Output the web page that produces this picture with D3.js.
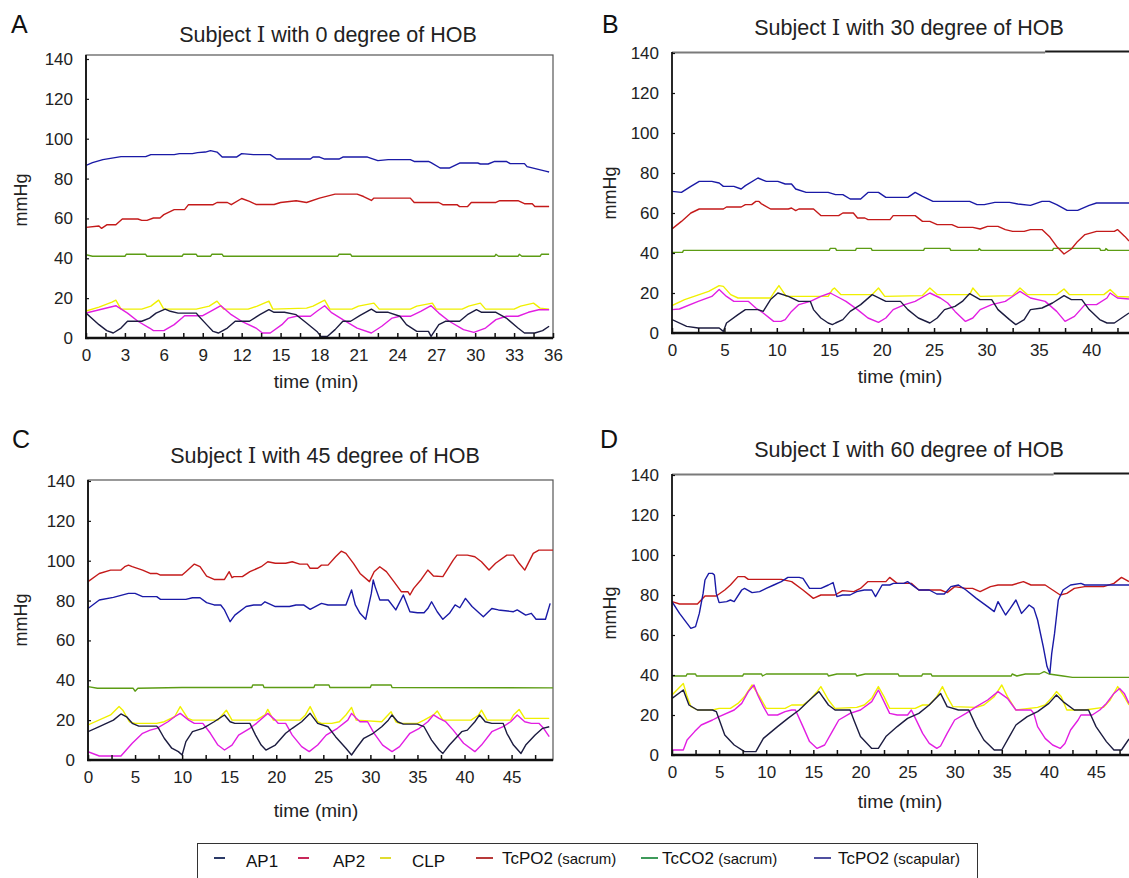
<!DOCTYPE html>
<html>
<head>
<meta charset="utf-8">
<script src="https://cdn.jsdelivr.net/npm/d3@7"></script>
<style>
body { margin: 0; background: #fff; }
svg { display: block; font-family: "Liberation Sans", Arial, sans-serif; }
</style>
</head>
<body>
<svg id="fig" width="1129" height="878"></svg>
<script>
// series order: AP1, AP2, CLP, TcPO2 (sacrum), TcCO2 (sacrum), TcPO2 (scapular)
var seriesNames = ["AP1", "AP2", "CLP", "TcPO2", "TcCO2", "TcPO2"];
var seriesSites = ["", "", "", "(sacrum)", "(sacrum)", "(scapular)"];

// ---- A : 0 degree ----  [time (min), mmHg]
var A_AP1 = [[0,12.5],[1,6.7],[1.6,3.7],[2.1,2.5],[2.7,5],[3.2,8.4],[4.3,8.4],[4.9,10],[5.4,12.5],[6.1,14.5],[6.5,13.4],[7.1,12.5],[8.5,12.5],[8.7,10.9],[9.3,6.7],[9.8,3.3],[10.2,2.5],[10.9,5],[11.5,8.4],[12.6,8.4],[13.4,11.7],[14.1,14.2],[14.5,12.9],[15.3,12.9],[16.2,11.7],[17,7.5],[17.8,3.3],[18.1,0.8],[18.6,0.8],[19.2,4.2],[19.8,8.4],[20.4,8.4],[21.1,11.2],[22,14.5],[22.4,12.9],[23.3,12.9],[24.2,10.9],[24.7,6.7],[25.5,3.3],[26.4,3.3],[26.6,0.8],[27.2,6.7],[27.7,8.4],[28.8,8.4],[29.4,11.7],[30.1,14.2],[30.5,12.9],[31.6,12.9],[32.4,10],[33.3,5],[33.8,2.5],[34.6,2.5],[35.2,3.7],[35.7,5.9]];
var A_AP2 = [[0,12.5],[2.3,16.2],[3.2,12.5],[4,8.4],[4.9,5],[5.2,3.7],[6,3.7],[6.8,6.7],[7.4,10],[7.6,11.2],[9,11.2],[9.6,13.4],[10.4,16.2],[11.2,11.7],[12,8.4],[13.1,5],[13.6,2.5],[14.2,2.5],[15.1,6.7],[15.6,10],[16.2,10.9],[17.3,10.9],[17.8,13.4],[18.4,16.2],[18.9,12.9],[19.8,9.2],[20.9,5],[22,2.5],[22.8,5.9],[23.6,10],[24.2,10.9],[25,10.9],[25.8,13.4],[26.6,16.2],[27.2,12.5],[28,8.4],[29.1,4.2],[29.9,2.8],[30.8,5],[31.6,9.2],[32.4,10.9],[33.3,10.9],[34.1,12.9],[34.9,14.2],[35.7,14.2]];
var A_CLP = [[0,13.5],[1,15.5],[2,18],[2.3,19],[2.7,14.5],[4.3,14.5],[5,16],[5.6,19],[6,14.5],[8.5,14.5],[9.5,16],[10.1,18.5],[10.6,14.5],[12.5,14.5],[13.2,16],[14.1,18.5],[14.4,14.5],[17,15],[17.5,16],[18.4,19],[18.8,14.5],[20.5,14.5],[21,16],[22.2,17.5],[22.6,14.5],[25,14.5],[25.5,16],[26.7,17.5],[27,14.5],[29,14.5],[29.5,16],[30.4,17.5],[30.8,14.5],[33,14.5],[33.5,16],[34.5,17.5],[35,15],[35.7,14.5]];
var A_PO2Sac = [[0,55.5],[1,56.2],[1.2,55],[1.6,56.8],[2.3,56.8],[2.8,59.7],[4,59.7],[4.3,59],[4.7,59],[5.2,60.2],[5.7,60.2],[6,61.9],[6.8,64.4],[7.6,64.4],[7.9,66.9],[9.8,66.9],[10.1,68],[10.9,68],[11.2,66.9],[12,70],[12.6,68.6],[13.1,67],[14.5,67],[15,68],[16.2,68.9],[17,68],[18,70.2],[19.2,72.2],[20.9,72.2],[21.4,71],[22,69],[22.2,70.2],[25,70.2],[25.3,68],[27.2,68],[27.5,66.9],[28.6,66.9],[28.8,65.9],[29.4,65.9],[29.7,68],[31.6,68],[31.9,68.9],[33.3,68.9],[33.8,67.4],[34.4,67.4],[34.6,66],[35.7,66]];
var A_CO2 = [[0,41.8],[0.5,41],[3,41],[3.1,42],[4.6,42],[4.7,41],[7.4,41],[7.5,42],[8.5,42],[8.6,41],[9.6,41],[9.7,42],[10.5,42],[10.6,41],[19.4,41],[19.5,42],[20.4,42],[20.5,41],[31.5,41],[31.6,42],[31.8,41],[33.3,41],[33.4,42],[33.6,41],[35,41],[35.1,42],[35.7,42]];
var A_PO2Scap = [[0,86.6],[0.5,88],[1.3,89.5],[2.7,91],[4.6,91],[5,92],[6.8,92],[7.2,92.5],[8.2,92.5],[8.6,93],[9.2,93.3],[9.6,94],[10.1,93.3],[10.5,90.8],[11.6,90.8],[12,92.5],[12.9,92],[14.2,92],[14.7,89.8],[17.3,89.8],[17.5,90.8],[18,90.8],[18.4,89.8],[19.5,89.8],[19.8,90.8],[21.7,90.8],[22.5,89],[23.3,89.5],[25,89.5],[25.3,88.6],[26.4,88.6],[26.6,88],[27.3,85.3],[28,85.3],[28.8,87.8],[30.2,87.8],[30.4,87.3],[31,87.3],[31.5,88.6],[32.4,88.6],[32.7,87.5],[33.8,87.5],[34,86],[35.5,83.6],[35.7,83.3]];

// ---- B : 30 degree ----
var B_AP1 = [[0,6.7],[1.4,3.3],[2.5,2.5],[4.5,2.5],[4.9,0.8],[5.2,5],[6.3,9.2],[7,11.7],[7.6,11.7],[8.2,11.7],[8.7,10.8],[9.4,16.7],[10.1,20],[11.1,18.3],[12.1,15.8],[13.2,15.8],[13.5,11.7],[14.2,7.5],[14.9,5],[15.3,4.2],[15.6,5],[16.3,6.7],[17,10.8],[18,14.2],[19.1,19.2],[20.4,15.8],[21.8,15.8],[22.5,11.7],[23.5,7.5],[24.6,5],[25.3,7.5],[26,11.7],[27,13.3],[27.7,15.8],[28.4,19.7],[29.4,16.7],[30.5,16.7],[31.1,11.7],[32.2,6.7],[32.8,4.2],[33.6,6.7],[34.2,11.7],[35.3,12.5],[36.3,15],[37.4,18.7],[38.1,16.7],[39.1,16.7],[39.8,11.7],[40.8,6.7],[41.5,5],[42.2,5],[42.9,7.5],[43.6,10]];
var B_AP2 = [[0,11.7],[0.7,12],[2.5,15.8],[3.8,18.3],[4.5,21.7],[5.2,18.3],[5.9,15.8],[7.3,15.8],[8,12.5],[8.7,10],[9.7,5.8],[10.4,5.8],[10.8,6.7],[11.4,10.8],[12.1,14.2],[13.2,15.8],[14.2,18.3],[15.1,20],[16,17.5],[16.6,15.8],[17.7,11.7],[18.7,7.5],[19.7,5.3],[20.4,7.5],[21.1,11.7],[22.2,14.2],[23.2,15.8],[24.6,20],[25.6,17.5],[26.3,15],[27,10.8],[28,5.8],[28.7,7.5],[29.4,11.7],[30.5,14.2],[31.8,15.8],[33.2,20.8],[34.2,17.5],[35.6,15.8],[36.7,10.8],[37.5,5.8],[38.4,8.3],[39.4,14.2],[40.5,14.2],[41.5,17.5],[41.8,20],[42.5,17.5],[43.6,17]];
var B_CLP = [[0,13.7],[1.2,16.7],[3.5,20.8],[4.5,23.7],[4.9,23.3],[5.6,19.2],[6.3,17.5],[9.4,17.5],[9.7,20],[10.2,23.7],[10.9,18.3],[14.9,18.3],[15.3,21.7],[15.5,22.5],[16.1,19.2],[19.1,19.2],[19.7,22.5],[20.3,18.3],[23.9,18.7],[24.6,22.5],[25.3,19.2],[28.4,19.2],[28.7,22.5],[29.4,18.3],[32.5,18.7],[33.2,22.5],[33.9,19.2],[36.7,19.2],[37.4,22],[37.9,19.2],[41.2,19.2],[41.8,21.7],[42.5,18.3],[43.6,18]];
var B_PO2Sac = [[0,52],[0.9,55.8],[1.8,60],[2.6,62],[4.9,62],[5.2,63],[6.6,63],[7,64.2],[7.6,64.2],[8,65.8],[8.3,65.8],[8.5,64.7],[9.4,62],[11.1,62],[11.4,62.5],[11.8,61.2],[12.1,62],[13.5,62],[14.2,58.7],[15.9,58.7],[16.3,60],[17.3,60],[17.7,57.5],[18.4,57.5],[18.7,56.7],[20.8,56.7],[21.1,58.7],[23.2,58.7],[23.9,55.8],[24.6,55.8],[25.3,54.2],[26.7,54.2],[27.3,52.8],[28.7,52.8],[29.4,52],[30.1,53.3],[31.1,53.3],[31.8,51.7],[32.5,50.8],[33.6,50.8],[34.2,51.7],[35.3,51.7],[36,48.3],[36.7,43.3],[37.4,39.5],[38.1,42],[38.7,45.8],[39.4,49.2],[40.5,50.8],[42.2,50.8],[42.5,51.7],[43.2,48.3],[43.6,46]];
var B_CO2 = [[0,40.3],[1,40.3],[1.1,41.3],[15,41.3],[15.1,42.3],[15.6,42.3],[15.7,41.3],[17.5,41.3],[17.6,42.3],[19,42.3],[19.1,41.3],[24,41.3],[24.1,42.3],[26.5,42.3],[26.6,41.3],[29.2,41.3],[29.3,42.2],[29.5,41.3],[36.3,41.3],[36.4,42.3],[40.8,42.3],[40.9,41.3],[41.3,41.3],[41.4,42.2],[41.6,41.3],[43.6,41.3]];
var B_PO2Scap = [[0,70.8],[0.9,70.3],[1.8,73.3],[2.6,75.8],[3.8,75.8],[4.5,75],[4.9,73.3],[5.9,73.3],[6.6,72],[7,73.7],[8.2,77.5],[9,75.8],[10.1,75.8],[10.8,74.5],[11.4,74.5],[11.8,72],[12.8,70.3],[14.9,70.3],[15.6,69.2],[16.3,69.2],[17,67],[18,67],[18.7,70.3],[19.7,70.3],[20.4,67.8],[22.5,67.8],[23.2,70.3],[23.9,68.3],[24.9,65.8],[28.4,65.8],[29.1,64.2],[29.8,64.2],[30.8,65.3],[32.2,65.3],[33,64.5],[34.2,63.8],[35.3,65.8],[36,65.8],[36.7,64.2],[37.7,61.3],[38.7,61.3],[39.8,63.8],[40.5,65],[43.6,65]];

// ---- C : 45 degree ----
var C_AP1 = [[0,14.2],[1.2,16.7],[2.7,20],[3.5,23.1],[4.1,21.7],[4.7,18.4],[5.4,17],[7.3,17],[7.5,15.9],[8.1,10.9],[8.9,5.9],[9.6,4.2],[10,2.5],[10.4,9.2],[11.1,14.2],[12.2,15.9],[13.4,19.2],[14.5,22.6],[15.1,19.2],[15.6,18.4],[17.2,18.4],[17.8,12.5],[18.4,7.5],[18.9,5],[19.9,7.5],[21,13.4],[21.7,15.9],[22.7,19.2],[23.6,23.4],[24.4,18.4],[25.5,16.7],[26.3,11.7],[27.4,5.9],[28,2.5],[28.5,5.9],[29.3,10.9],[30.3,13.4],[31.2,16.7],[31.9,20],[32.3,22.6],[32.9,19.2],[33.5,18],[35,18],[35.7,16.7],[36.5,10],[37.3,5],[37.7,3.3],[38.4,7.5],[39.7,14.2],[40.3,15],[41.1,19.2],[41.6,22.6],[42.2,19.2],[42.9,18.4],[44.1,18.4],[44.5,13.4],[45.2,7.5],[46,3.3],[46.5,7.5],[47.5,12.5],[48.3,15.9],[49,16.7]];
var C_AP2 = [[0,4.2],[1.2,2],[3.5,2],[4.7,8.4],[5.8,13.4],[6.6,15],[7.3,15.9],[8.5,19.2],[9.2,21.7],[9.8,23.4],[10.7,20],[11.3,18.4],[12.2,18.4],[13,13.4],[13.8,7.5],[14.5,5],[15.3,7.5],[16,12.5],[17.2,15.9],[17.9,18.4],[19.1,23.4],[19.9,20],[20.2,18.4],[21,18.4],[21.7,12.5],[22.7,6.7],[23.5,4.2],[24.4,7.5],[25.3,12.5],[26.5,15.9],[27.6,20],[28,23.4],[28.5,20.9],[28.9,19.2],[29.7,19.2],[30.4,13.4],[31.3,7.5],[32.3,4.2],[33.1,6.7],[34.2,13.4],[35.2,15.9],[36.1,19.2],[36.7,22.6],[37.3,20.9],[38,19.2],[38.8,15],[39.9,8.4],[41.1,4.2],[41.8,7.5],[42.9,14.2],[44.1,16.7],[44.9,19.2],[45.6,22.6],[46.4,19.2],[47.1,18.4],[47.9,18.4],[48.4,15.9],[49,11.7]];
var C_CLP = [[0,17.6],[2.4,22.6],[3.3,26.8],[3.7,25],[4.4,19.2],[5,18.4],[7.3,18.4],[8.1,19.2],[9.2,21.7],[9.8,26.8],[10.6,20.9],[11.1,20],[13.8,20],[14.1,21.7],[14.7,25],[15.3,20],[17.9,20],[18.8,22.6],[19.1,25.4],[19.7,20],[22.5,20],[23.1,22.6],[23.6,26.8],[24.4,19.2],[24.8,18.4],[25.9,18.4],[26.7,19.2],[27.4,22.6],[28,26.4],[28.5,20],[31.2,19.2],[31.7,21.7],[32.2,24.2],[32.7,19.2],[33.1,18.4],[35,18.4],[35.7,20],[36.7,22.6],[37.1,24.6],[37.7,20],[40.7,20],[41.5,22.6],[41.8,25],[42.4,20],[44.9,20],[45.2,22.6],[45.8,25.4],[46.4,20.9],[49,20.9]];
var C_PO2Sac = [[0,89.5],[1.2,93.6],[2.4,95.3],[3.5,95.3],[3.9,97],[4.3,97.8],[4.7,97],[5.8,95.3],[6.6,93.6],[7.3,93.6],[7.7,92.8],[10,92.8],[10.4,94.5],[11.3,98.3],[11.9,97],[12.6,92.3],[13.4,90.6],[14.5,90.6],[15,94.5],[15.3,91.5],[15.5,92],[16.4,92],[17.2,94.5],[18.4,97],[19.1,99.5],[19.9,98.7],[21,98.7],[21.7,99.5],[22.5,98.3],[23.3,98.3],[23.6,96.2],[24.4,96.2],[24.8,97.8],[25.5,97.8],[26.3,102],[26.9,104.8],[27.4,103.7],[28.2,98.7],[28.9,93.6],[29.9,89.5],[30.4,94.5],[31,97],[31.7,94.5],[32.5,89.5],[33.3,84.4],[34,84.4],[34.2,82.8],[34.6,86.1],[35.4,90.6],[36.1,95.3],[36.7,92.3],[37.7,92],[38.8,100.3],[39.2,102.8],[40.3,102.8],[41.1,102],[41.8,99.5],[42.6,95.3],[43.3,98.7],[44.5,102.8],[45.2,102.8],[45.8,98.7],[46.4,95.3],[47.3,103.7],[47.9,105.3],[49.4,105.3]];
var C_CO2 = [[0,36.8],[1,36],[4.8,36],[5,34.5],[5.3,36],[10,36.4],[17.4,36.4],[17.5,37.6],[18.6,37.6],[18.7,36.4],[24,36.4],[24.1,37.6],[25.6,37.6],[25.7,36.4],[30,36.4],[30.1,37.6],[32.2,37.6],[32.3,36.4],[49.4,36.2]];
var C_PO2Scap = [[0,76],[1.2,80.3],[2.7,81.6],[4.3,83.6],[5,83.6],[5.8,82],[7.3,82],[7.7,80.6],[10.4,80.6],[11.1,81.4],[11.9,81.4],[12.6,79],[13.4,77.8],[14.1,77.8],[14.5,75.3],[15.1,69.4],[15.6,72.7],[16.8,77],[17.6,77.8],[18.4,77.8],[18.8,79.4],[19.9,77],[21.4,77],[22.1,77.8],[22.9,77.8],[23.6,75.6],[24.8,78.6],[25.5,77.8],[27.4,77.8],[28,85.3],[28.4,77.8],[28.9,73.6],[29.5,70.6],[30.1,83.6],[30.3,90.3],[30.5,87],[31,80.3],[31.9,80.3],[32.7,75.3],[33.5,82.8],[34.2,74.4],[35,73.9],[35.7,73.9],[36.1,76],[36.5,79.4],[37.1,74.4],[37.7,70.6],[38.4,73.6],[39,77.8],[39.5,76.4],[40.1,81.1],[40.8,77],[42,71.9],[42.9,76],[43.6,75.3],[45.2,74.4],[45.6,75.3],[46.5,72.7],[47.1,73.6],[47.6,70.6],[48.6,70.6],[49.1,78.6]];

// ---- D : 60 degree ----
var D_AP1 = [[0,28.3],[1.2,32.5],[1.8,25],[2.7,22.5],[4.3,22.5],[4.7,21.7],[5.6,10],[6.6,5],[7.7,1.7],[8.9,1.7],[9.7,8.3],[11.2,14.2],[12.3,18.3],[13.5,22.5],[14.6,27.5],[15.6,31.7],[16.6,25],[17.3,22.5],[18.9,22.5],[19.3,17.5],[20,9.2],[21.2,3.3],[21.9,3.3],[22.7,9.2],[23.9,14.2],[25,18.3],[26.2,20.8],[27.3,25],[28.5,30.8],[29.2,24.2],[30.4,22.5],[31.5,22.5],[32.3,14.2],[33.1,7.5],[34.2,2.5],[35,2.5],[35.8,9.2],[36.5,15],[37.7,19.2],[38.8,21.7],[40,25.8],[40.8,30],[41.5,26.7],[42.7,22.5],[44.2,22.5],[45,14.2],[46.1,6.7],[46.9,2.5],[47.7,2.5],[48.5,8]];
var D_AP2 = [[0,2.5],[1.2,2.5],[1.6,7.5],[2.4,11.7],[3.1,15],[4.3,17.5],[5,19.2],[6.6,22.5],[7.4,25.8],[8.1,31.7],[8.7,35],[9.1,30],[9.7,24.2],[10.2,20],[11.2,20],[12,21.7],[12.7,22.5],[13.1,22.5],[13.9,14.2],[14.6,6.7],[15.4,3.3],[16.2,5],[17,11.7],[17.7,17.5],[18.9,20.8],[20,22.5],[21.2,26.7],[21.9,32.5],[22.5,26.7],[23.1,20.8],[23.9,20],[25,20],[25.4,22.5],[26,16.7],[26.6,10.8],[27.3,5.8],[28.1,3.3],[28.5,4.5],[29.2,10.8],[30,17.5],[31.2,20.8],[32.3,24.2],[33.5,27.5],[34.6,31.7],[35.6,28.3],[36.5,22.5],[38.1,22.5],[38.4,20.8],[38.8,14.2],[39.6,8.3],[40.4,5],[41.2,3.3],[41.7,5.8],[42.3,12.5],[43.1,17.5],[43.4,20],[44.6,20],[45.4,22.5],[46.1,25.8],[46.9,30.8],[47.5,33.3],[48,30.8],[48.5,25.8]];
var D_CLP = [[0,30],[1.2,35.8],[1.6,29.2],[2,24.2],[2.7,22.5],[4.3,22.5],[5,23.3],[6.2,23.3],[7,25.8],[7.7,29.2],[8.5,35],[9.3,29.2],[10,23.3],[12,23.3],[12.7,25],[13.9,25],[14.6,27.5],[15.4,31.7],[15.8,34.2],[16.6,27.5],[17.3,23.3],[19.6,23.8],[20.4,25],[21.2,28.3],[21.9,34.2],[22.5,29.2],[23.1,23.3],[25.8,23.3],[26.6,25],[27.3,25],[28.1,29.2],[28.7,34.2],[29.2,29.2],[29.8,24.2],[32.3,23.8],[33.1,25],[34.2,29.2],[35,35],[35.6,29.2],[36.5,22.5],[38.8,23.8],[39.6,25],[40.4,29.2],[40.8,31.7],[41.3,29.2],[41.9,22.5],[43.8,22.5],[45.8,23.8],[46.5,27.5],[47.3,34.2],[48,29.2],[48.5,25]];
var D_PO2Sac = [[0,76.7],[0.8,75.5],[2.7,75.5],[3.1,77.5],[3.5,79.5],[4.7,79.5],[5.6,82.5],[6.2,85],[7,89.2],[7.7,89.2],[8.1,87.8],[11.6,87.8],[12.7,86.7],[13.9,82.5],[15,78.3],[15.8,80],[17.3,80],[18.1,82.2],[19.3,81.7],[20,83.3],[20.8,86.7],[22.7,86.7],[23.1,88.8],[23.9,85.8],[25.4,85.8],[26.2,82.5],[28.5,82.5],[29.2,81.2],[30,84.2],[31.2,83.3],[31.9,83.3],[32.7,81.7],[33.8,84.2],[34.6,85],[36.1,85],[37.3,86.7],[38.1,85],[39.6,85],[40.4,82.5],[41.2,80],[41.9,80.8],[42.7,83.3],[43.8,84.2],[45.8,84.2],[46.9,85.8],[47.7,88.8],[48.5,86.7]];
var D_CO2 = [[0,39.5],[1.5,39.5],[1.6,40.5],[2.5,40.5],[2.6,39.5],[7.5,39.5],[7.6,40.5],[9.5,40.5],[9.6,39.5],[10,40.5],[16.5,40.5],[16.6,39.5],[17.5,40.5],[19.5,40.5],[19.6,39.5],[20.5,40.5],[24,40.5],[24.1,39.5],[26.5,39.5],[26.6,40.5],[27.5,40.5],[27.6,39.5],[36,39.5],[36.1,40.5],[36.6,39.5],[37.5,40.5],[39,40.5],[39.5,41.7],[40,40.5],[41.5,39.5],[42.5,38.8],[48.5,38.8]];
var D_PO2Scap = [[0,76.7],[0.8,70.8],[1.6,65.8],[2,63.3],[2.5,64.2],[2.9,70.8],[3.3,80.8],[3.5,87.5],[3.9,90.8],[4.3,90.8],[4.5,90],[4.7,80.8],[5,76.2],[5.8,76.7],[6.2,77.5],[6.6,76.7],[7.4,82.5],[7.7,83.3],[8.5,81.2],[9.3,81.7],[10,83.3],[10.8,85],[11.6,86.7],[12.3,88.8],[13.5,88.8],[13.9,88.3],[14.6,83.3],[15.8,83.3],[16.6,85],[17.1,86.2],[17.5,79.2],[18.1,80],[18.9,80],[19.6,81.7],[20.4,82.5],[21.2,82.5],[21.6,79.2],[22.3,85],[23.1,85],[23.5,85.8],[24.6,85.8],[25,86.7],[26.2,82.5],[27.3,82.5],[28.1,80.5],[28.9,80.5],[29.6,84.2],[30.4,85],[31.2,82.5],[32.3,78.3],[33.5,74.2],[34.2,71.7],[34.6,76.7],[35.4,70],[35.9,73.3],[36.5,77.5],[37.1,70.8],[37.9,75],[38.4,73.3],[38.8,67.5],[39.4,54.2],[39.8,44.2],[40.1,40.8],[40.3,50.8],[40.6,60.8],[41,77.5],[41.5,82.5],[42.3,85],[43.4,85.8],[43.8,85],[48.5,85]];

var yTicks = [0, 20, 40, 60, 80, 100, 120, 140];
var lineColors = ["#1c1c40", "#e21ee2", "#f0f000", "#c41a1a", "#5c9c14", "#1a1aa6"];
var legendColors = ["#2b3a67", "#c8285a", "#e0dc30", "#b83a3a", "#3e9a5a", "#5050a0"];
var drawOrder = [4, 3, 5, 2, 1, 0];

var panels = [
  { id: "A", degree: "0", series: [A_AP1, A_AP2, A_CLP, A_PO2Sac, A_CO2, A_PO2Scap],
    xMax: 36, xStep: 3, xMinor: 1.5, x0: 86, x1: 553, y0: 338, y140: 59, top: 55, box: true,
    letter: [11, 33], titleAt: [328, 42], yLab: [21, 200], xLab: [316, 388] },
  { id: "B", degree: "30", series: [B_AP1, B_AP2, B_CLP, B_PO2Sac, B_CO2, B_PO2Scap],
    xMax: 43.6, xStep: 5, xMinor: 2.5, x0: 672, x1: 1129, y0: 333, y140: 53, top: 52, box: false, split: 35.6,
    letter: [602, 33], titleAt: [909, 35], yLab: [610, 193], xLab: [900, 383] },
  { id: "C", degree: "45", series: [C_AP1, C_AP2, C_CLP, C_PO2Sac, C_CO2, C_PO2Scap],
    xMax: 49.4, xStep: 5, xMinor: 2.5, x0: 88, x1: 553, y0: 760, y140: 481, top: 480, box: true,
    letter: [12, 448], titleAt: [325, 463], yLab: [21, 620], xLab: [316, 817] },
  { id: "D", degree: "60", series: [D_AP1, D_AP2, D_CLP, D_PO2Sac, D_CO2, D_PO2Scap],
    xMax: 48.5, xStep: 5, xMinor: 2.5, x0: 672, x1: 1129, y0: 755, y140: 475, top: 474, box: false, split: 40.5,
    letter: [600, 448], titleAt: [909, 457], yLab: [610, 613], xLab: [900, 808] }
];

var svg = d3.select("#fig");
var defs = svg.append("defs");

panels.forEach(function (p) {
  var x = d3.scaleLinear().domain([0, p.xMax]).range([p.x0, p.x1]);
  var y = d3.scaleLinear().domain([0, 140]).range([p.y0, p.y140]);
  var g = svg.append("g").attr("class", "panel-" + p.id);

  defs.append("clipPath").attr("id", "clip" + p.id)
    .append("rect").attr("x", p.x0).attr("y", p.top - 3)
    .attr("width", p.x1 - p.x0).attr("height", p.y0 - p.top + 3);

  g.append("text").attr("x", p.letter[0]).attr("y", p.letter[1])
    .attr("font-size", 25).attr("fill", "#111").text(p.id);

  // title, roman numeral in a serif face like the original
  var tt = g.append("text").attr("x", p.titleAt[0]).attr("y", p.titleAt[1])
    .attr("text-anchor", "middle").attr("font-size", 21.5).attr("fill", "#222");
  tt.append("tspan").text("Subject ");
  tt.append("tspan").attr("font-family", "'Liberation Serif', 'DejaVu Serif', serif").text("\u2160");
  tt.append("tspan").text(" with " + p.degree + " degree of HOB");

  // frame
  if (p.box) {
    g.append("rect").attr("x", p.x0).attr("y", p.top)
      .attr("width", p.x1 - p.x0).attr("height", p.y0 - p.top)
      .attr("fill", "none").attr("stroke", "#555").attr("stroke-width", 1.2);
  } else {
    g.append("line").attr("x1", p.x0).attr("x2", x(p.split))
      .attr("y1", p.top + 0.5).attr("y2", p.top + 0.5)
      .attr("stroke", "#7a7a7a").attr("stroke-width", 2);
    g.append("line").attr("x1", x(p.split)).attr("x2", p.x1)
      .attr("y1", p.top - 0.5).attr("y2", p.top - 0.5)
      .attr("stroke", "#1a1a1a").attr("stroke-width", 2);
  }

  // data lines
  var line = d3.line().x(function (d) { return x(d[0]); }).y(function (d) { return y(d[1]); });
  var lg = g.append("g").attr("clip-path", "url(#clip" + p.id + ")");
  drawOrder.forEach(function (k) {
    lg.append("path").datum(p.series[k])
      .attr("fill", "none").attr("stroke", lineColors[k])
      .attr("stroke-width", 1.4).attr("stroke-linejoin", "round")
      .attr("d", line);
  });

  // x axis
  var xt = d3.range(0, p.xMax + 0.001, p.xMinor);
  var xAxis = d3.axisBottom(x).tickValues(xt).tickSizeInner(-5).tickSizeOuter(0).tickPadding(11)
    .tickFormat(function (v) { return Math.abs(v / p.xStep - Math.round(v / p.xStep)) < 1e-6 ? d3.format("d")(v) : ""; });
  var gx = g.append("g").attr("transform", "translate(0," + p.y0 + ")").call(xAxis);
  gx.select(".domain").remove();
  gx.selectAll("text").attr("font-size", 17).attr("fill", "#222").attr("font-family", null);
  gx.selectAll("line").attr("stroke", "#111").attr("stroke-width", 1.5);

  // y axis
  var yAxis = d3.axisLeft(y).tickValues(yTicks).tickSizeInner(-3).tickSizeOuter(0).tickPadding(13);
  var gy = g.append("g").attr("transform", "translate(" + p.x0 + ",0)").call(yAxis);
  gy.select(".domain").remove();
  gy.selectAll("text").attr("font-size", 17).attr("fill", "#222").attr("font-family", null);
  gy.selectAll("line").attr("stroke", "#111").attr("stroke-width", 1.2);

  g.append("line").attr("x1", p.x0).attr("x2", p.x0).attr("y1", p.top).attr("y2", p.y0)
    .attr("stroke", "#111").attr("stroke-width", 1.8);
  g.append("line").attr("x1", p.x0 - 1).attr("x2", p.x1).attr("y1", p.y0).attr("y2", p.y0)
    .attr("stroke", "#111").attr("stroke-width", 2.4);

  g.append("text").attr("transform", "translate(" + p.yLab[0] + "," + p.yLab[1] + ") rotate(-90)")
    .attr("text-anchor", "middle").attr("dy", "0.35em").attr("font-size", 18).attr("fill", "#222").text("mmHg");
  g.append("text").attr("x", p.xLab[0]).attr("y", p.xLab[1])
    .attr("text-anchor", "middle").attr("font-size", 19).attr("fill", "#222").text("time (min)");
});

// legend
var legendLineX = [214, 298, 380, 476, 641, 814];
var legendTextX = [246, 333, 412, 502, 662, 838];
var leg = svg.append("g").attr("class", "legend");
leg.append("rect").attr("x", 197.5).attr("y", 843.5).attr("width", 780).attr("height", 50)
  .attr("fill", "#fff").attr("stroke", "#333").attr("stroke-width", 1);
seriesNames.forEach(function (name, i) {
  var w = i < 3 ? 11 : 17;
  leg.append("line").attr("x1", legendLineX[i]).attr("x2", legendLineX[i] + w)
    .attr("y1", 858).attr("y2", 858).attr("stroke", legendColors[i]).attr("stroke-width", 2);
  var t = leg.append("text").attr("x", legendTextX[i]).attr("y", i < 3 ? 867 : 864)
    .attr("font-size", 17).attr("fill", "#111").text(name);
  if (seriesSites[i]) {
    t.append("tspan").attr("font-size", 15).text(" " + seriesSites[i]);
  }
});
</script>
</body>
</html>
